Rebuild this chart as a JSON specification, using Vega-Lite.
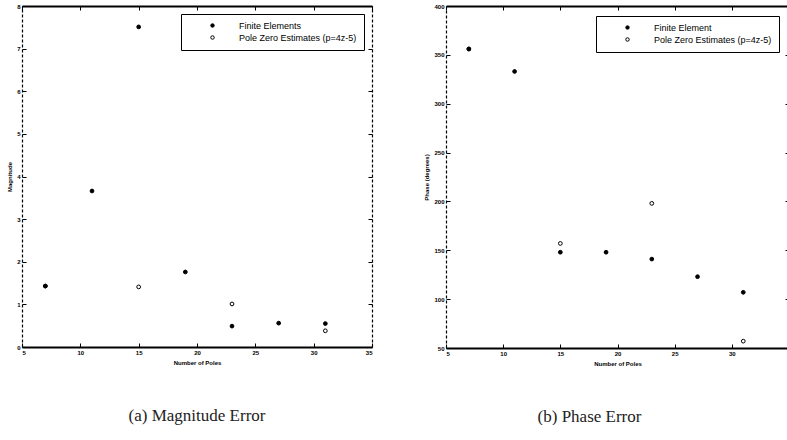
{
  "$schema": "https://vega.github.io/schema/vega-lite/v6.json",
  "background": "white",
  "padding": {"left": 6, "top": 3, "right": 0, "bottom": 0},
  "datasets": {
    "magnitude": [
      {"poles": 7, "value": 1.43, "series": "Finite Elements"},
      {"poles": 11, "value": 3.66, "series": "Finite Elements"},
      {"poles": 15, "value": 7.51, "series": "Finite Elements"},
      {"poles": 19, "value": 1.76, "series": "Finite Elements"},
      {"poles": 23, "value": 0.49, "series": "Finite Elements"},
      {"poles": 27, "value": 0.56, "series": "Finite Elements"},
      {"poles": 31, "value": 0.55, "series": "Finite Elements"},
      {"poles": 7, "value": 1.43, "series": "Pole Zero Estimates (p=4z-5)"},
      {"poles": 15, "value": 1.41, "series": "Pole Zero Estimates (p=4z-5)"},
      {"poles": 23, "value": 1.01, "series": "Pole Zero Estimates (p=4z-5)"},
      {"poles": 31, "value": 0.38, "series": "Pole Zero Estimates (p=4z-5)"}
    ],
    "phase": [
      {"poles": 7, "value": 356, "series": "Finite Element"},
      {"poles": 11, "value": 333, "series": "Finite Element"},
      {"poles": 15, "value": 148, "series": "Finite Element"},
      {"poles": 19, "value": 148, "series": "Finite Element"},
      {"poles": 23, "value": 141, "series": "Finite Element"},
      {"poles": 27, "value": 123, "series": "Finite Element"},
      {"poles": 31, "value": 107, "series": "Finite Element"},
      {"poles": 7, "value": 356, "series": "Pole Zero Estimates (p=4z-5)"},
      {"poles": 15, "value": 157, "series": "Pole Zero Estimates (p=4z-5)"},
      {"poles": 23, "value": 198, "series": "Pole Zero Estimates (p=4z-5)"},
      {"poles": 31, "value": 57, "series": "Pole Zero Estimates (p=4z-5)"}
    ]
  },
  "spacing": 50,
  "hconcat": [
    {
      "width": 350,
      "height": 341,
      "data": {"name": "magnitude"},
      "title": {"text": "(a) Magnitude Error", "orient": "bottom", "anchor": "middle", "offset": 43, "font": "Liberation Serif", "fontSize": 17, "fontWeight": "normal", "color": "#222"},
      "layer": [
        {
          "mark": {"type": "point", "stroke": "black", "strokeWidth": 1, "size": 14, "opacity": 1},
          "encoding": {
            "x": {"field": "poles", "type": "quantitative", "scale": {"domain": [5, 35], "nice": false, "zero": false},
                  "axis": {"orient": "bottom", "title": "Number of Poles", "values": [5, 10, 15, 20, 25, 30, 35]}},
            "y": {"field": "value", "type": "quantitative", "scale": {"domain": [0, 8], "nice": false},
                  "axis": {"orient": "left", "title": "Magnitude", "values": [0, 1, 2, 3, 4, 5, 6, 7, 8], "domainDash": [3, 2]}},
            "fill": {"field": "series", "type": "nominal",
                     "scale": {"domain": ["Finite Elements", "Pole Zero Estimates (p=4z-5)"], "range": ["black", "transparent"]},
                     "legend": {"title": null, "orient": "top-right", "offset": 8}}
          }
        },
        {
          "mark": {"type": "point", "opacity": 0},
          "encoding": {
            "x": {"field": "poles", "type": "quantitative", "scale": {"domain": [5, 35], "nice": false, "zero": false},
                  "axis": {"orient": "top", "title": null, "labels": false, "values": [5, 10, 15, 20, 25, 30, 35]}},
            "y": {"field": "value", "type": "quantitative", "scale": {"domain": [0, 8], "nice": false},
                  "axis": {"orient": "right", "title": null, "labels": false, "values": [0, 1, 2, 3, 4, 5, 6, 7, 8], "domainDash": [3, 2]}}
          }
        }
      ],
      "resolve": {"scale": {"x": "independent", "y": "independent"}, "axis": {"x": "independent", "y": "independent"}}
    },
    {
      "width": 343,
      "height": 342,
      "data": {"name": "phase"},
      "title": {"text": "(b) Phase Error", "orient": "bottom", "anchor": "middle", "offset": 43, "dx": -28, "font": "Liberation Serif", "fontSize": 17, "fontWeight": "normal", "color": "#222"},
      "layer": [
        {
          "mark": {"type": "point", "stroke": "black", "strokeWidth": 1, "size": 14, "opacity": 1},
          "encoding": {
            "x": {"field": "poles", "type": "quantitative", "scale": {"domain": [5, 35], "nice": false, "zero": false},
                  "axis": {"orient": "bottom", "title": "Number of Poles", "values": [5, 10, 15, 20, 25, 30]}},
            "y": {"field": "value", "type": "quantitative", "scale": {"domain": [50, 400], "nice": false, "zero": false},
                  "axis": {"orient": "left", "title": "Phase (degrees)", "values": [50, 100, 150, 200, 250, 300, 350, 400], "domainDash": [3, 2]}},
            "fill": {"field": "series", "type": "nominal",
                     "scale": {"domain": ["Finite Element", "Pole Zero Estimates (p=4z-5)"], "range": ["black", "transparent"]},
                     "legend": {"title": null, "orient": "top-right", "offset": 10}}
          }
        },
        {
          "mark": {"type": "point", "opacity": 0},
          "encoding": {
            "x": {"field": "poles", "type": "quantitative", "scale": {"domain": [5, 35], "nice": false, "zero": false},
                  "axis": {"orient": "top", "title": null, "labels": false, "values": [5, 10, 15, 20, 25, 30, 35]}},
            "y": {"field": "value", "type": "quantitative", "scale": {"domain": [50, 400], "nice": false, "zero": false},
                  "axis": {"orient": "right", "title": null, "labels": false, "values": [50, 100, 150, 200, 250, 300, 350, 400], "domainDash": [3, 2]}}
          }
        }
      ],
      "resolve": {"scale": {"x": "independent", "y": "independent"}, "axis": {"x": "independent", "y": "independent"}}
    }
  ],
  "resolve": {"legend": {"fill": "independent"}, "scale": {"fill": "independent"}},
  "config": {
    "view": {"stroke": null},
    "axis": {
      "domainColor": "black", "domainWidth": 1.2, "grid": false,
      "tickColor": "black", "tickSize": -4, "tickWidth": 1,
      "labelFont": "Liberation Sans", "labelFontSize": 6, "labelFontWeight": "bold", "labelColor": "black", "labelPadding": 6,
      "titleFont": "Liberation Sans", "titleFontSize": 6, "titleFontWeight": "bold", "titleColor": "black", "titlePadding": 4
    },
    "axisX": {"domainWidth": 2},
    "legend": {
      "strokeColor": "black", "fillColor": "white", "padding": 7, "cornerRadius": 0,
      "labelFont": "Liberation Sans", "labelFontSize": 9, "labelColor": "black", "labelLimit": 300, "labelOffset": 22,
      "symbolType": "circle", "symbolSize": 12, "symbolStrokeColor": "black", "symbolStrokeWidth": 1, "symbolOffset": 20,
      "rowPadding": 2
    }
  }
}
